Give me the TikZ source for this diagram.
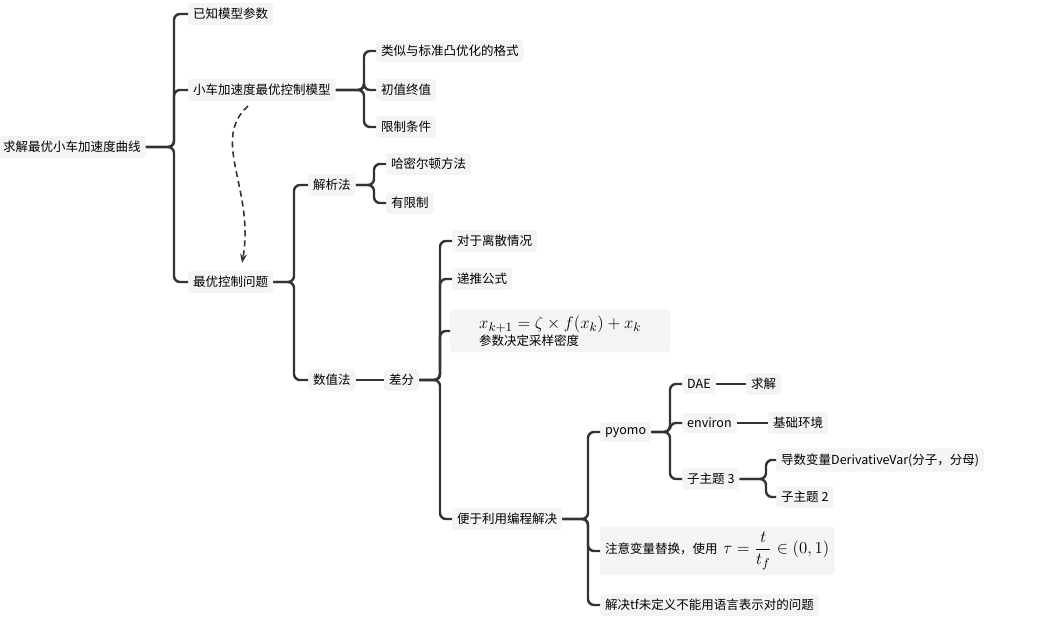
\documentclass[tikz,border=0pt]{standalone}
\usepackage{amsmath}
\usepackage{graphicx}
\usepackage{fontspec}
\setmainfont{Noto Sans CJK SC}
\usetikzlibrary{arrows.meta}
\definecolor{nodebg}{HTML}{F4F4F4}
\definecolor{lnk}{HTML}{333333}
\begin{document}
\begin{tikzpicture}[x=1pt,y=-1pt,
  mm/.style={fill=nodebg,rounded corners=3pt,inner xsep=5pt,inner ysep=5pt,anchor=west,font=\fontsize{12.5}{15}\selectfont,text=black},
  conn/.style={draw=lnk,line width=2.4pt,rounded corners=6pt}]
\useasboundingbox (0,0) rectangle (1062,638);
\node[mm,anchor=west] (root) at (-2,147) {求解最优小车加速度曲线};
\node[mm] (k1) at (188,14) {已知模型参数};
\node[mm] (k2) at (188,90) {小车加速度最优控制模型};
\node[mm] (k3) at (188,282) {最优控制问题};
\node[mm] (m1) at (376,51) {类似与标准凸优化的格式};
\node[mm] (m2) at (376,90) {初值终值};
\node[mm] (m3) at (376,127) {限制条件};
\node[mm] (a1) at (308,185) {解析法};
\node[mm] (a2) at (308,380) {数值法};
\node[mm] (h1) at (386,164) {哈密尔顿方法};
\node[mm] (h2) at (386,203) {有限制};
\node[mm] (d0) at (384,380) {差分};
\node[mm] (e1) at (452,241) {对于离散情况};
\node[mm] (e2) at (452,279) {递推公式};
\node[mm,align=left,inner ysep=6pt,minimum width=220pt] (e3) at (450,331) {\scalebox{1.4}{$x_{k+1}=\zeta\times f(x_k)+x_k$}\\[2pt]参数决定采样密度};
\node[mm] (e4) at (452,519) {便于利用编程解决};
\node[mm] (p1) at (600,432) {pyomo};
\node[mm,inner ysep=5pt] (p2) at (600,551) {注意变量替换，使用\ \ \scalebox{1.4}{$\tau=\dfrac{t}{t_f}\in(0,1)$}};
\node[mm] (p3) at (600,605) {解决tf未定义不能用语言表示对的问题};
\node[mm] (q1) at (682,384) {DAE};
\node[mm] (q2) at (682,423) {environ};
\node[mm] (q3) at (682,479) {子主题 3};
\node[mm] (r1) at (746,384) {求解};
\node[mm] (r2) at (768,423) {基础环境};
\node[mm] (s1) at (776,460) {导数变量DerivativeVar(分子，分母)};
\node[mm] (s2) at (776,497) {子主题 2};
\coordinate (b1) at (174,0);
\coordinate (b2) at (364,0);
\coordinate (b3) at (294,0);
\coordinate (b4) at (374,0);
\coordinate (b5) at (440,0);
\coordinate (b6) at (588,0);
\coordinate (b7) at (670,0);
\coordinate (b8) at (766,0);
\foreach \p/\b/\c in {root/b1/k1,root/b1/k2,root/b1/k3,k2/b2/m1,k2/b2/m2,k2/b2/m3,k3/b3/a1,k3/b3/a2,a1/b4/h1,a1/b4/h2,d0/b5/e1,d0/b5/e2,d0/b5/e3,d0/b5/e4,e4/b6/p1,e4/b6/p2,e4/b6/p3,p1/b7/q1,p1/b7/q2,p1/b7/q3,q3/b8/s1,q3/b8/s2}
  \draw[conn] (\p.east) -- (\p.east -| \b) |- (\c.west);
\draw[conn] (a2.east) -- (d0.west);
\draw[conn] (q1.east) -- (r1.west);
\draw[conn] (q2.east) -- (r2.west);
\coordinate (t1) at (248,106);
\coordinate (t2) at (242,263);
\draw[lnk,line width=1.6pt,dash pattern=on 6pt off 4pt,-{Stealth[length=9pt]}] (t1) .. controls (210,140) and (255,190) .. (t2);
\end{tikzpicture}
\end{document}
